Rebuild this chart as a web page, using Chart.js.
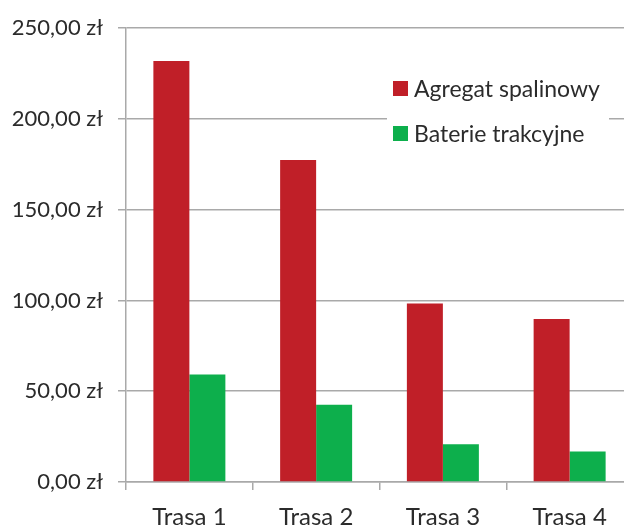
<!DOCTYPE html>
<html>
<head>
<meta charset="utf-8">
<script src="https://cdn.jsdelivr.net/npm/chart.js@4/dist/chart.umd.min.js"></script>
<style>
  html, body { margin: 0; padding: 0; background: #fff; overflow: hidden; }
  canvas { display: block; }
</style>
</head>
<body>
<canvas id="c" width="634" height="525" style="width:634px;height:525px"></canvas>
<script>
// Route categories and energy cost per route (PLN)
const routes = ['Trasa 1', 'Trasa 2', 'Trasa 3', 'Trasa 4'];
const generatorCost = [231.9, 177.4, 98.4, 89.8];
const batteryCost = [59.2, 42.6, 20.8, 16.8];
const seriesNames = ['Agregat spalinowy', 'Baterie trakcyjne'];
const yTickValues = [0, 50, 100, 150, 200, 250];

const COLORS = ['#C01F28', '#0DAF4C'];
const GRID = '#a9a9a9';
const FONT = 'Lato, "Open Sans", sans-serif';
const TEXT = '#2b2b2b';

const formatPLN = v => v.toFixed(2).replace('.', ',') + ' z\u0142';

// Boxed legend drawn inside the plot area, top right
const insetLegend = {
  id: 'insetLegend',
  afterDatasetsDraw(chart) {
    const ctx = chart.ctx;
    ctx.save();
    ctx.fillStyle = '#ffffff';
    ctx.fillRect(387, 62, 222, 96);
    ctx.font = '23px ' + FONT;
    ctx.textBaseline = 'middle';
    ctx.textAlign = 'left';
    chart.data.datasets.forEach((ds, i) => {
      const cy = 88.5 + i * 45;
      ctx.fillStyle = ds.backgroundColor;
      ctx.fillRect(393, cy - 7.5, 15, 15);
      ctx.fillStyle = TEXT;
      ctx.fillText(ds.label, 414, cy + 1);
    });
    ctx.restore();
  }
};

new Chart(document.getElementById('c'), {
  type: 'bar',
  data: {
    labels: routes,
    datasets: [
      { label: seriesNames[0], data: generatorCost, backgroundColor: COLORS[0] },
      { label: seriesNames[1], data: batteryCost, backgroundColor: COLORS[1] }
    ]
  },
  options: {
    responsive: false,
    animation: false,
    devicePixelRatio: 1,
    layout: { padding: { top: 24, right: 1, bottom: 0, left: 0 } },
    datasets: { bar: { categoryPercentage: 0.568, barPercentage: 1.0 } },
    plugins: {
      legend: { display: false },
      tooltip: { enabled: false }
    },
    scales: {
      x: {
        afterFit(scale) { scale.height = 43; },
        grid: {
          offset: true,
          drawOnChartArea: false,
          drawTicks: true,
          tickLength: 8,
          color: GRID,
          lineWidth: 1.5
        },
        border: { display: true, color: GRID, width: 1.5 },
        ticks: { color: TEXT, font: { family: FONT, size: 24 }, padding: 13, maxRotation: 0 }
      },
      y: {
        min: 0,
        max: 250,
        afterFit(scale) { scale.width = 126; },
        afterBuildTicks(scale) { scale.ticks = yTickValues.map(v => ({ value: v })); },
        grid: { color: GRID, lineWidth: 1.5, drawTicks: true, tickLength: 8 },
        border: { display: true, color: GRID, width: 1.5 },
        ticks: {
          color: TEXT,
          font: { family: FONT, size: 22 },
          padding: 15,
          callback: v => formatPLN(v)
        }
      }
    }
  },
  plugins: [insetLegend]
});
</script>
</body>
</html>
